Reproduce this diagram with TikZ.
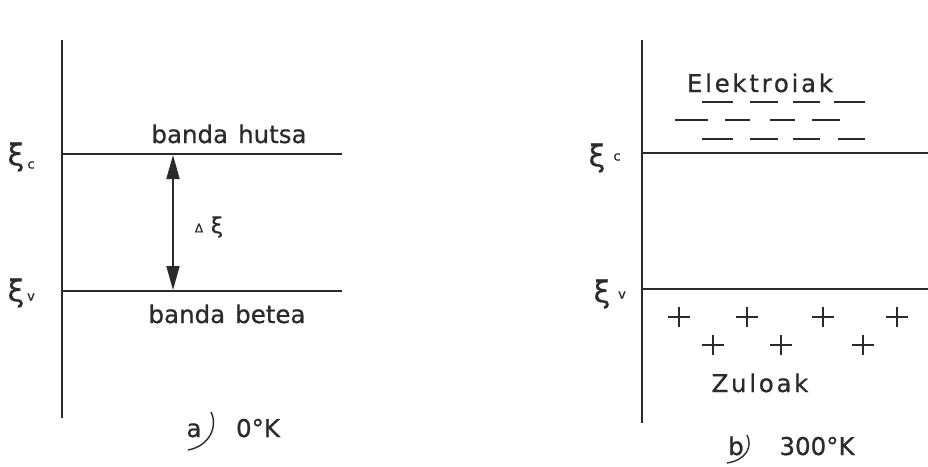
\documentclass[tikz,border=0pt]{standalone}
\usepackage{fontspec}
\setmainfont{DejaVu Sans}
\newfontfamily\handfont[FakeBold=0.7]{DejaVu Sans}
\usetikzlibrary{arrows.meta}
\definecolor{ink}{HTML}{2B2B2B}
\tikzset{
  axis/.style={draw=ink, line width=2pt},
  level/.style={draw=ink, line width=2pt},
  lbl/.style={text=ink, inner sep=0pt, anchor=base, font=\handfont\fontsize{24.5}{26}\selectfont},
  wide/.style={lbl, font=\handfont\fontsize{24.5}{26}\selectfont\addfontfeature{LetterSpace=11}},
  sym/.style={text=ink, inner sep=0pt, font=\handfont\fontsize{30}{32}\selectfont},
  sub/.style={text=ink, inner sep=0pt, font=\handfont\fontsize{13}{15}\selectfont},
  gap/.style={draw=ink, line width=1.8pt, {Triangle[length=24pt,width=13pt]}-{Triangle[length=24pt,width=13pt]}},
  carrier/.style={draw=ink, line width=1.8pt},
  hook/.style={draw=ink, line width=1.4pt},
}
\begin{document}
\begin{tikzpicture}[x=1pt,y=-1pt]
\useasboundingbox (0,0) rectangle (928,466);

% ---- a) panel: T = 0 K ----
\coordinate (aTop) at (62,40);
\coordinate (aBot) at (62,418);
\draw[axis] (aTop) -- (aBot);
\coordinate (aC0) at (62,154);
\coordinate (aC1) at (342,154);
\coordinate (aV0) at (62,291);
\coordinate (aV1) at (342,291);
\draw[level] (aC0) -- (aC1);
\draw[level] (aV0) -- (aV1);
\coordinate (gTop) at (173,155);
\coordinate (gBot) at (173,290);
\draw[gap] (gTop) -- (gBot);
\node[sub, font=\handfont\fontsize{12}{14}\selectfont] (dD) at (199,228) {Δ};
\node[sym, font=\handfont\fontsize{22}{24}\selectfont] (dE) at (217,227) {ξ};
\node[lbl] (hutsa) at (229,143) {banda\kern10pt hutsa};
\node[lbl] (betea) at (227,323) {banda\kern10pt betea};
\node[sym] (aEc) at (16,157) {ξ};
\node[sub] (aEcs) at (31,165) {c};
\node[sym] (aEv) at (16,293) {ξ};
\node[sub] (aEvs) at (31,297) {v};
\node[lbl] (aA) at (194,437) {a};
\node[lbl] (aT) at (258,437) {0°K};
\draw[hook] (211,412) .. controls (218,426) and (210,446) .. (188,450);

% ---- b) panel: T = 300 K ----
\coordinate (bTop) at (642,40);
\coordinate (bBot) at (642,423);
\draw[axis] (bTop) -- (bBot);
\coordinate (bC0) at (642,153);
\coordinate (bC1) at (928,153);
\coordinate (bV0) at (642,289);
\coordinate (bV1) at (928,289);
\draw[level] (bC0) -- (bC1);
\draw[level] (bV0) -- (bV1);
\node[sym] (bEc) at (597,158) {ξ};
\node[sub] (bEcs) at (617,157) {c};
\node[sym] (bEv) at (602,294) {ξ};
\node[sub] (bEvs) at (622,295) {v};
\node[wide] (elek) at (760,92) {Elektroiak};
\node[wide] (zulo) at (760,392) {Zuloak};
\node[lbl] (bB) at (736,455) {b};
\node[lbl] (bT) at (817,455) {300°K};
\draw[hook] (747,435) .. controls (753,447) and (746,460) .. (727,463);

% electrons in the conduction band
\foreach \a/\b in {702/733, 750/778, 793/820, 834/865}
  \draw[carrier] (\a,102) -- (\b,102);
\foreach \a/\b in {675/708, 725/750, 770/795, 812/840}
  \draw[carrier] (\a,120) -- (\b,120);
\foreach \a/\b in {702/733, 750/778, 793/820, 838/865}
  \draw[carrier] (\a,139) -- (\b,139);

% holes in the valence band
\foreach \x in {679, 747, 823, 897}
  \draw[carrier] (\x-11,317) -- (\x+11,317) (\x,307) -- (\x,327);
\foreach \x in {713, 781, 863}
  \draw[carrier] (\x-11,345) -- (\x+11,345) (\x,335) -- (\x,355);
\end{tikzpicture}
\end{document}
